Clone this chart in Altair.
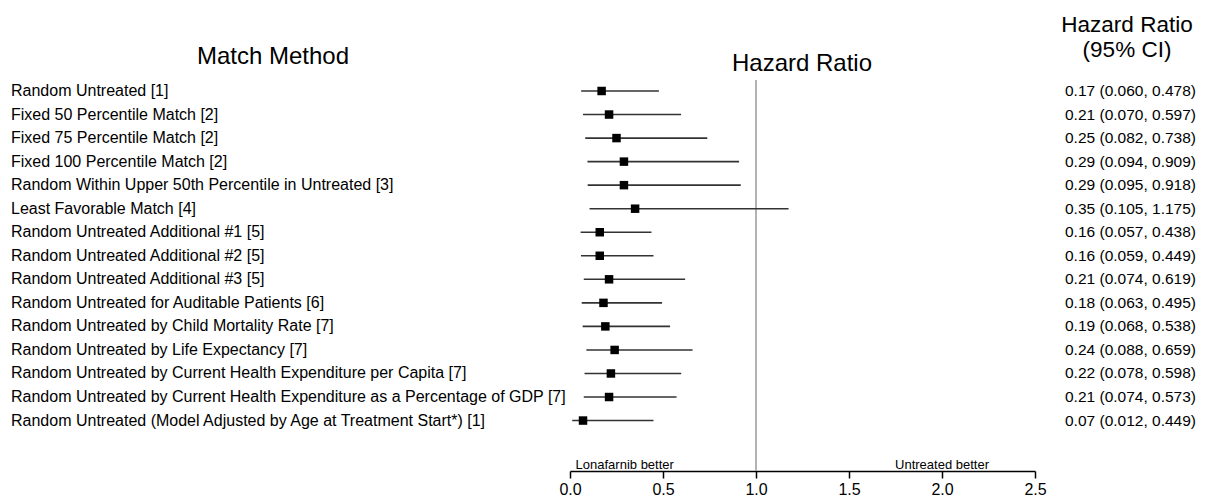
import altair as alt
import pandas as pd

methods = [
    "Random Untreated [1]",
    "Fixed 50 Percentile Match [2]",
    "Fixed 75 Percentile Match [2]",
    "Fixed 100 Percentile Match [2]",
    "Random Within Upper 50th Percentile in Untreated [3]",
    "Least Favorable Match [4]",
    "Random Untreated Additional #1 [5]",
    "Random Untreated Additional #2 [5]",
    "Random Untreated Additional #3 [5]",
    "Random Untreated for Auditable Patients [6]",
    "Random Untreated by Child Mortality Rate [7]",
    "Random Untreated by Life Expectancy [7]",
    "Random Untreated by Current Health Expenditure per Capita [7]",
    "Random Untreated by Current Health Expenditure as a Percentage of GDP [7]",
    "Random Untreated (Model Adjusted by Age at Treatment Start*) [1]",
]
hr = [0.17, 0.21, 0.25, 0.29, 0.29, 0.35, 0.16, 0.16, 0.21, 0.18, 0.19, 0.24, 0.22, 0.21, 0.07]
lower = [0.060, 0.070, 0.082, 0.094, 0.095, 0.105, 0.057, 0.059, 0.074, 0.063, 0.068, 0.088, 0.078, 0.074, 0.012]
upper = [0.478, 0.597, 0.738, 0.909, 0.918, 1.175, 0.438, 0.449, 0.619, 0.495, 0.538, 0.659, 0.598, 0.573, 0.449]
x_ticks = [0.0, 0.5, 1.0, 1.5, 2.0, 2.5]
ref_value = [1.0]

df = pd.DataFrame({
    "row": list(range(len(methods))),
    "method": methods,
    "hr": hr,
    "lo": lower,
    "hi": upper,
    "label": [f"{h:.2f} ({l:.3f}, {u:.3f})" for h, l, u in zip(hr, lower, upper)],
})

FONT = "Liberation Sans"
H = 463
yscale = alt.Scale(domain=[-3.526, 16.143], reverse=True, nice=False, zero=False)
Y = alt.Y("row:Q", scale=yscale, axis=None)
xscale = alt.Scale(domain=[0, 2.5], nice=False, zero=False)
xaxis = alt.Axis(values=x_ticks, format=".1f", title=None, grid=False,
                 domainColor="black", tickColor="black", tickSize=7, tickWidth=1.5,
                 domainWidth=1.5, labelFontSize=16, labelColor="black", labelFont=FONT,
                 labelPadding=3, labelFlush=False)

# Left panel: method labels
left_text = alt.Chart(df).mark_text(align="left", baseline="middle", font=FONT,
                                    fontSize=16, color="black").encode(
    x=alt.value(3), y=Y, text="method:N")
left_title = alt.Chart(pd.DataFrame({"t": ["Match Method"]})).mark_text(
    align="center", baseline="middle", font=FONT, fontSize=24, color="black").encode(
    x=alt.value(265), y=alt.value(49), text="t:N")
panel_a = alt.layer(left_text, left_title).properties(width=562, height=H)

# Middle panel: forest plot
vline = alt.Chart(pd.DataFrame({"ref": ref_value})).mark_rule(
    color="#9a9a9a", strokeWidth=1.5).encode(
    x=alt.X("ref:Q", scale=xscale, axis=xaxis), y=alt.value(72), y2=alt.value(H))
ci = alt.Chart(df).mark_rule(color="#333333", strokeWidth=1.6).encode(
    x=alt.X("lo:Q", scale=xscale, axis=xaxis), x2="hi:Q", y=Y)
pts = alt.Chart(df).mark_square(size=72, color="black", opacity=1).encode(
    x=alt.X("hr:Q", scale=xscale, axis=xaxis), y=Y)
note_l = alt.Chart(pd.DataFrame({"p": [0.03], "t": ["Lonafarnib better"]})).mark_text(
    align="left", baseline="alphabetic", font=FONT, fontSize=13, color="black").encode(
    x=alt.X("p:Q", scale=xscale, axis=xaxis), y=alt.value(H - 2), text="t:N")
note_r = alt.Chart(pd.DataFrame({"p": [2.0], "t": ["Untreated better"]})).mark_text(
    align="center", baseline="alphabetic", font=FONT, fontSize=13, color="black").encode(
    x=alt.X("p:Q", scale=xscale, axis=xaxis), y=alt.value(H - 2), text="t:N")
mid_title = alt.Chart(pd.DataFrame({"t": ["Hazard Ratio"]})).mark_text(
    align="center", baseline="middle", font=FONT, fontSize=24, color="black").encode(
    x=alt.value(232), y=alt.value(56), text="t:N")
panel_b = alt.layer(vline, ci, pts, note_l, note_r, mid_title).properties(width=465, height=H)

# Right panel: HR (95% CI) text
right_text = alt.Chart(df).mark_text(align="left", baseline="middle", font=FONT,
                                     fontSize=15.5, color="black").encode(
    x=alt.value(30), y=Y, text="label:N")
right_title = alt.Chart(pd.DataFrame({"t": ["Hazard Ratio", "(95% CI)"],
                                      "yy": [17, 41.5]})).mark_text(
    align="center", baseline="middle", font=FONT, fontSize=22.5, color="black").encode(
    x=alt.value(92), y=alt.Y("yy:Q", scale=None, axis=None), text="t:N")
panel_c = alt.layer(right_text, right_title).properties(width=155, height=H)

chart = alt.hconcat(panel_a, panel_b, panel_c, spacing=0, bounds="flush").properties(
    padding=0).configure_view(stroke=None)

chart.save("out.html", embed_options={"renderer": "svg", "actions": False})
